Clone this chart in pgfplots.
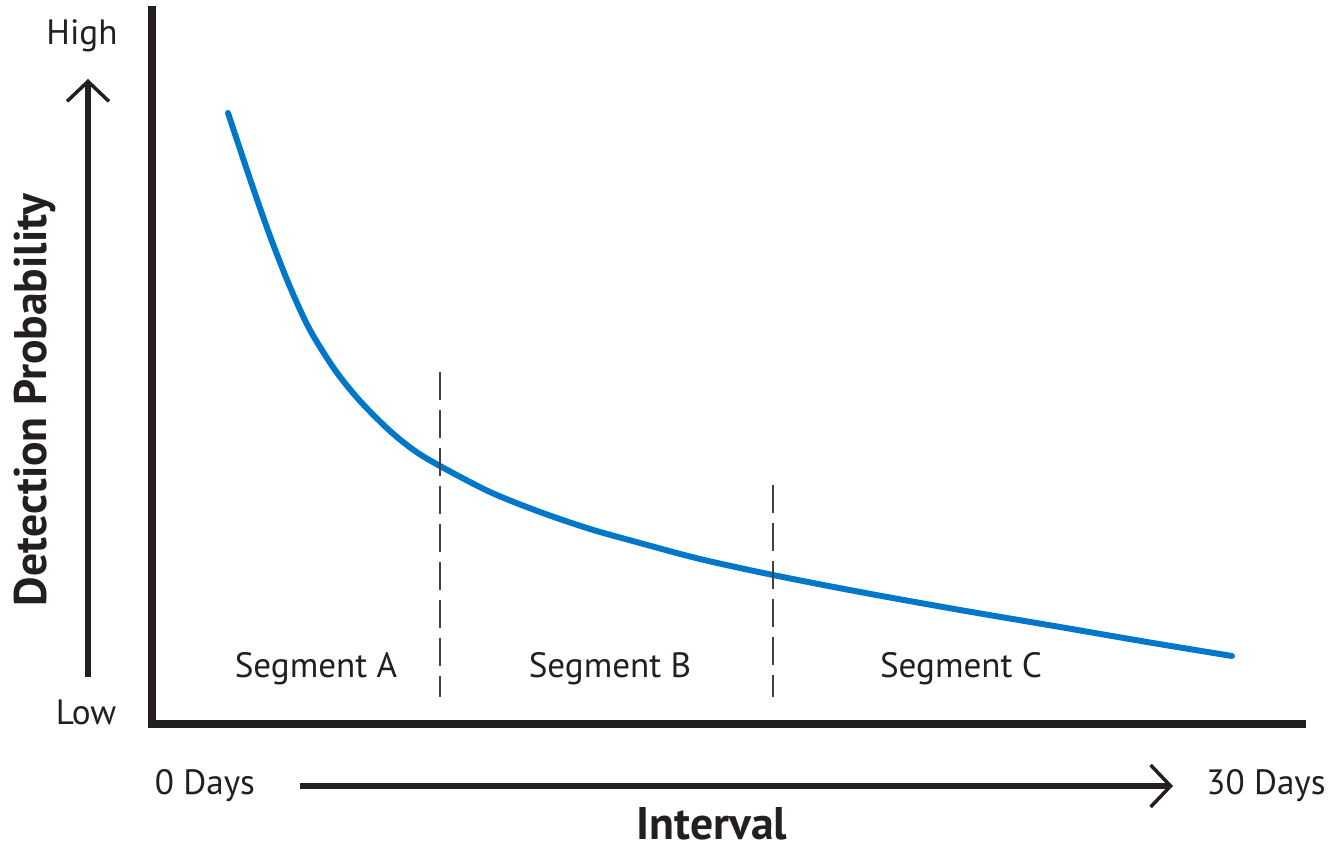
\documentclass[border=0pt]{standalone}
\usepackage{pgfplots}
\pgfplotsset{compat=1.18}
\usetikzlibrary{arrows.meta}
\usepackage{fontspec}
\setmainfont{PT Sans}
\definecolor{curveblue}{RGB}{0,119,200}
\definecolor{ink}{RGB}{35,31,32}

\begin{document}
\begin{tikzpicture}
\begin{axis}[
  scale only axis,
  width=11.5cm, height=7.14cm,
  xmin=152, xmax=1302, ymin=0, ymax=714,
  axis lines=left,
  axis line style={-, line width=2pt, ink, line cap=rect},
  xtick=\empty, ytick=\empty,
  clip=false,
]
% canvas of the picture (pixel units of the reference)
\coordinate (bl) at (axis cs:0,-125);
\coordinate (tr) at (axis cs:1331,724);

\addplot[curveblue, line width=1.7pt, smooth, tension=0.5, line cap=round] coordinates {
  (228,611) (250,545) (270,488) (290,437) (310,394) (335,354)
  (360,323) (390,293) (415,273) (440,258) (490,232) (540,212)
  (590,195) (640,181) (700,165) (773,149) (860,132) (960,114)
  (1060,97) (1150,81.5) (1232,68)
};

% segment borders
\draw[ink!85, line width=0.6pt, dash pattern=on 0.28cm off 0.1cm]
  (axis cs:440,352) -- (axis cs:440,27);
\draw[ink!85, line width=0.6pt, dash pattern=on 0.28cm off 0.1cm]
  (axis cs:773,239) -- (axis cs:773,27);

% direction arrows
\draw[ink, line width=1.7pt, -{Straight Barb[length=0.2cm, width=0.42cm, line width=1pt]}]
  (axis cs:88,47) -- (axis cs:88,645);
\draw[ink, line width=1.7pt, -{Straight Barb[length=0.2cm, width=0.42cm, line width=1pt]}]
  (axis cs:300,-62) -- (axis cs:1173,-62);

% labels
\begingroup
\fontsize{11}{13}\selectfont
\node[ink] at (axis cs:82,688) {High};
\node[ink] at (axis cs:86,12) {Low};
\node[ink] at (axis cs:205,-62) {0 Days};
\node[ink] at (axis cs:1266,-62) {30 Days};
\node[ink] at (axis cs:316,55) {Segment A};
\node[ink] at (axis cs:610,55) {Segment B};
\node[ink] at (axis cs:961,55) {Segment C};
\endgroup
\node[ink, inner sep=1pt, font=\fontsize{13}{15}\selectfont\bfseries] at (axis cs:712,-100) {Interval};
\node[ink, inner sep=1pt, rotate=90, font=\fontsize{13}{15}\selectfont\bfseries] at (axis cs:35,324) {Detection Probability};
\end{axis}
\pgfresetboundingbox
\path (bl) rectangle (tr);
\end{tikzpicture}
\end{document}
